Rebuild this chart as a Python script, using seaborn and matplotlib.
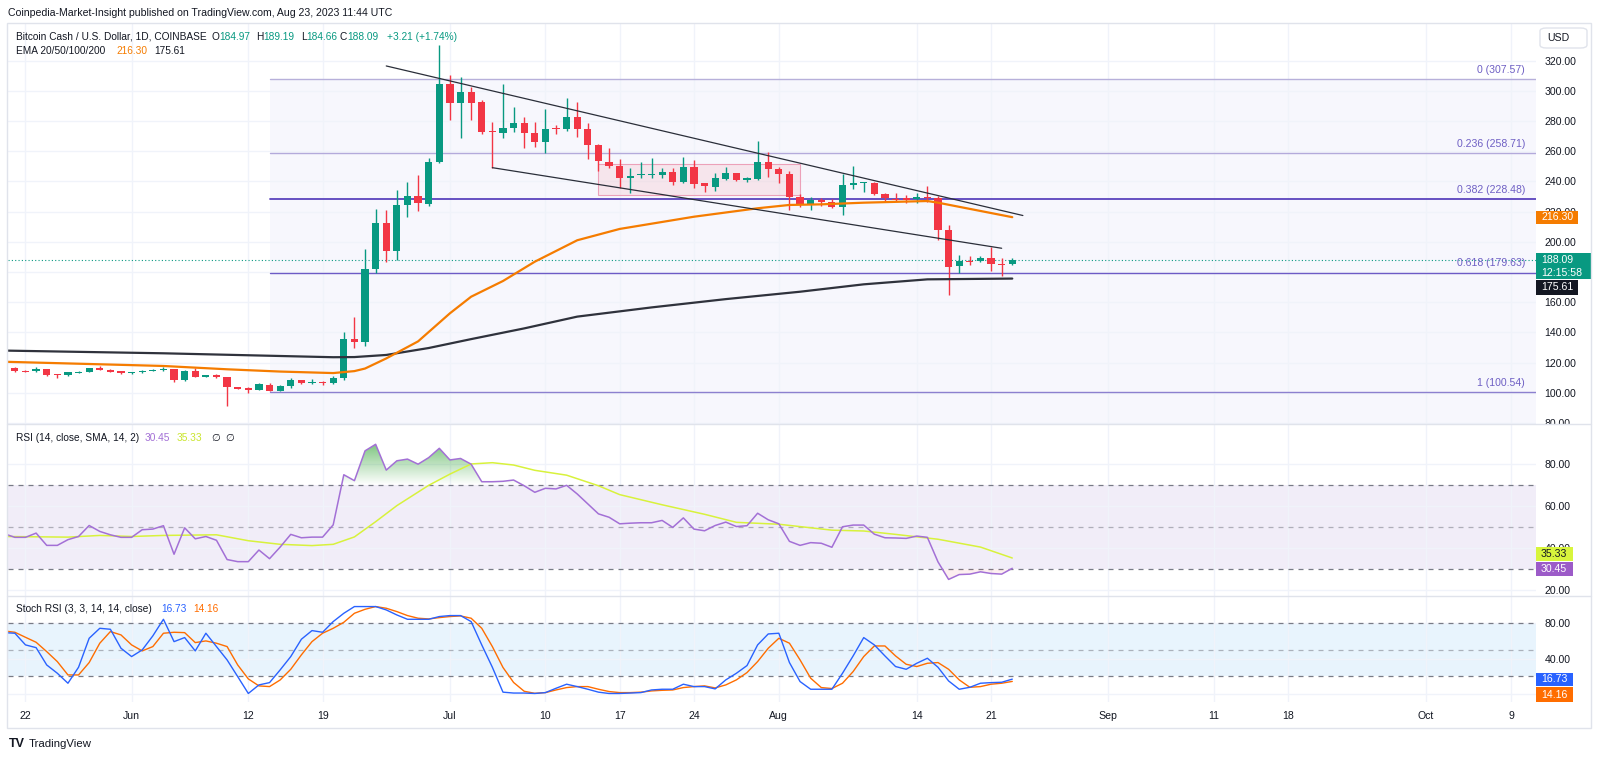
import numpy as np
import pandas as pd
import matplotlib
matplotlib.use('Agg')
import matplotlib.pyplot as plt
import matplotlib.dates as mdates
from matplotlib.patches import Rectangle, FancyBboxPatch, PathPatch
from matplotlib.lines import Line2D
from matplotlib.transforms import Bbox
import seaborn as sns

# ---------------- data ----------------
dates = pd.date_range('2023-05-20', '2023-08-23', freq='D')

opens = [116.3, 116.6, 114.4, 114.4, 115.5, 112.2, 111.5, 113.3, 114.0, 116.2, 115.1, 114.2,
         112.9, 113.5, 114.4, 114.9, 115.5, 108.4, 114.6, 110.6, 111.7, 110.2, 103.6, 102.9, 102.0, 105.1,
         101.4, 104.5, 108.2, 106.2, 107.3, 106.2, 109.5, 135.6, 133.3, 181.7, 212.7, 194.1, 224.4, 230.1,
         225.0, 253.1,
         304.5, 291.7, 299.5, 292.8, 273.4, 272.3, 275.6, 278.5, 271.8, 265.9, 275.2, 274.5, 282.4, 274.5,
         264.1, 253.1, 250.2, 242.0, 244.0, 244.0, 244.2, 246.0, 239.6, 249.3, 238.7, 236.5, 241.8, 245.3,
         240.9, 241.8, 253.1,
         248.0, 244.7, 229.4, 224.9, 227.7, 226.6, 222.8, 237.6, 238.7, 239.2, 231.6, 228.4, 228.8, 228.1,
         229.9, 228.8, 207.8, 183.9, 187.5, 187.2, 189.0, 185.3, 184.97]
highs = [117.0, 117.0, 115.0, 117.3, 115.8, 112.6, 113.8, 114.4, 116.6, 118.0, 115.5, 114.6,
         114.0, 115.0, 115.4, 117.2, 116.0, 115.0, 116.6, 112.0, 112.4, 110.6, 104.0, 103.6, 106.2, 106.4,
         104.9, 109.5, 108.6, 108.9, 107.7, 110.9, 140.4, 149.9, 195.0, 221.5, 221.0, 234.3, 239.4, 244.2,
         255.3, 330.4,
         310.5, 309.4, 302.8, 293.9, 279.6, 304.3, 289.5, 282.9, 279.6, 287.8, 277.4, 295.5, 292.8, 278.5,
         265.0, 261.9, 254.8, 248.7, 253.1, 255.3, 248.7, 248.7, 256.4, 254.2, 239.2, 245.3, 249.3, 245.8,
         243.0, 266.8, 259.7,
         249.3, 246.9, 231.6, 229.9, 228.8, 228.1, 244.9, 250.2, 239.8, 239.8, 232.5, 232.0, 230.8, 232.0,
         236.9, 230.3, 211.1, 191.2, 190.6, 190.6, 196.7, 189.0, 189.19]
lows = [115.8, 114.0, 113.6, 114.0, 111.3, 109.5, 111.2, 112.9, 113.8, 114.8, 113.4, 112.6,
        112.5, 113.2, 114.1, 114.6, 107.1, 108.0, 110.2, 110.3, 109.4, 91.2, 102.2, 100.0, 101.5, 100.8,
        101.0, 103.0, 105.8, 105.9, 105.0, 105.9, 108.5, 129.4, 131.0, 179.5, 186.4, 187.9, 216.6, 220.6,
        223.5, 252.4,
        280.7, 269.0, 280.7, 271.5, 249.1, 268.5, 273.0, 262.3, 263.0, 259.0, 271.2, 273.5, 269.6, 254.6,
        247.1, 248.7, 235.4, 232.1, 242.0, 242.0, 242.0, 237.6, 239.0, 235.8, 233.2, 233.6, 240.9, 240.5,
        239.5, 241.0, 243.1,
        239.2, 221.0, 222.8, 221.0, 223.7, 222.1, 217.7, 234.7, 233.2, 231.0, 227.2, 227.0, 225.5, 225.9,
        226.1, 201.2, 164.7, 179.1, 184.6, 186.5, 180.8, 177.3, 184.66]
closes = [116.7, 114.4, 114.0, 115.7, 111.5, 111.5, 113.5, 114.0, 116.2, 115.1, 113.7, 113.1,
          113.5, 114.6, 115.1, 116.0, 108.4, 114.6, 110.6, 111.7, 110.2, 103.6, 102.5, 102.0, 105.6, 101.4,
          104.5, 108.4, 106.2, 107.3, 106.2, 110.0, 135.6, 133.3, 182.0, 212.7, 194.1, 224.4, 230.1, 225.5,
          253.1, 304.5,
          291.7, 299.5, 292.2, 273.0, 272.5, 275.2, 278.5, 272.3, 265.9, 274.9, 274.5, 282.6, 274.5, 264.1,
          253.7, 250.4, 242.0, 243.8, 244.2, 244.4, 246.2, 239.6, 249.5, 238.5, 237.0, 242.0, 245.3, 240.9,
          242.3, 253.1, 248.0,
          244.7, 229.4, 225.0, 227.7, 226.6, 223.2, 237.6, 238.7, 239.2, 231.6, 229.2, 228.0, 227.7, 229.9,
          228.8, 207.8, 183.5, 187.2, 187.2, 189.5, 185.3, 184.97, 188.09]

ema50_dates = ['2023-05-20', '2023-06-04', '2023-06-10', '2023-06-15', '2023-06-20', '2023-06-22',
               '2023-06-23', '2023-06-25', '2023-06-28', '2023-07-01', '2023-07-03', '2023-07-06',
               '2023-07-09', '2023-07-13', '2023-07-17', '2023-07-24', '2023-07-30', '2023-08-02',
               '2023-08-05', '2023-08-09', '2023-08-15', '2023-08-16', '2023-08-23']
ema50 = [120.5, 117.7, 115.5, 114.0, 113.0, 114.3, 116.0, 122.7, 134.0, 152.6, 163.6, 174.0,
         186.8, 201.0, 208.5, 216.6, 222.2, 224.4, 224.8, 225.9, 227.0, 225.9, 216.3]

ema200_dates = ['2023-05-20', '2023-06-04', '2023-06-20', '2023-06-22', '2023-06-25', '2023-06-29',
                '2023-07-03', '2023-07-08', '2023-07-13', '2023-07-20', '2023-07-27', '2023-08-03',
                '2023-08-09', '2023-08-15', '2023-08-23']
ema200 = [127.9, 126.1, 123.5, 123.6, 125.0, 129.6, 135.5, 142.6, 150.4, 156.5, 162.0, 166.9,
          171.8, 175.1, 175.61]

rsi = [46.8, 45.1, 45.1, 47.1, 41.3, 41.3, 44.0, 45.5, 50.7, 47.9, 46.3, 45.1,
       45.1, 48.7, 49.0, 50.6, 37.1, 49.6, 44.4, 45.5, 43.7, 34.6, 33.6, 33.6, 39.1, 35.0,
       40.5, 46.5, 44.9, 45.2, 45.2, 51.0, 74.7, 71.9, 86.0, 89.1, 76.9, 81.3, 82.1, 79.7,
       82.8, 87.2,
       81.7, 82.4, 79.7, 71.4, 71.4, 71.6, 72.2, 69.5, 66.4, 68.3, 68.0, 69.7, 65.6, 60.9,
       56.2, 54.6, 51.5, 51.8, 52.0, 52.0, 53.1, 49.8, 54.3, 49.0, 48.2, 50.7, 52.3, 50.2,
       50.6, 56.5, 53.4,
       51.5, 43.2, 41.3, 42.6, 42.3, 40.4, 50.1, 50.9, 50.9, 46.6, 44.9, 44.8, 44.6, 45.7,
       45.1, 33.5, 25.2, 27.5, 27.7, 28.8, 28.0, 27.7, 30.45]

rsi_ma_dates = ['2023-05-20', '2023-05-26', '2023-05-29', '2023-06-01', '2023-06-04', '2023-06-09',
                '2023-06-12', '2023-06-15', '2023-06-18', '2023-06-20', '2023-06-22', '2023-06-24',
                '2023-06-26', '2023-06-29', '2023-07-01', '2023-07-03', '2023-07-05', '2023-07-07',
                '2023-07-09', '2023-07-12', '2023-07-15', '2023-07-17', '2023-07-21', '2023-07-25',
                '2023-07-28', '2023-08-01', '2023-08-06', '2023-08-09', '2023-08-12', '2023-08-16',
                '2023-08-20', '2023-08-23']
rsi_ma = [45.5, 45.2, 46.0, 45.5, 46.0, 46.3, 43.5, 41.8, 41.2, 41.8, 45.3, 52.5,
          60.1, 69.7, 75.0, 79.8, 80.4, 79.3, 76.8, 74.5, 69.5, 65.3, 60.5, 56.0,
          52.2, 51.3, 48.5, 48.1, 46.5, 44.2, 40.5, 35.33]

stoch_k = [69.4, 68.7, 55.5, 52.4, 32.8, 23.4, 12.1, 30.2, 63.0, 74.3, 73.2, 51.7,
           42.3, 49.8, 65.7, 84.5, 59.2, 63.8, 48.7, 68.7, 53.6, 38.5, 19.6, 0.5, 10.2, 12.8,
           27.2, 42.3, 61.9, 71.7, 69.8, 81.9, 91.3, 98.9, 98.9, 98.9, 95.1, 89.4, 84.5, 84.5,
           84.5, 87.6,
           88.7, 88.7, 81.9, 55.5, 30.2, 2.0, 1.0, 1.0, 0.5, 1.5, 6.4, 11.0, 8.3, 5.3,
           2.0, 0.5, 0.5, 1.0, 1.5, 4.5, 5.3, 5.3, 11.0, 8.3, 8.3, 5.7, 15.9, 23.4,
           32.1, 55.5, 67.9,
           68.7, 35.5, 14.0, 5.3, 5.3, 5.3, 23.4, 43.0, 63.8, 55.5, 43.0, 31.0, 27.9, 34.7,
           40.4, 30.2, 14.7, 5.3, 7.5, 12.1, 12.8, 13.2, 16.73]
stoch_d = [71.3, 69.8, 64.1, 58.5, 47.9, 36.6, 21.5, 21.5, 35.5, 57.4, 70.6, 66.8,
           55.5, 48.7, 53.6, 68.7, 69.8, 69.4, 58.1, 60.0, 57.4, 53.6, 32.8, 17.0, 9.1, 8.3,
           15.8, 27.9, 44.2, 59.2, 68.7, 74.3, 81.1, 91.3, 95.8, 98.9, 97.0, 93.2, 88.7, 85.7,
           84.9, 86.4,
           87.6, 88.3, 85.7, 74.3, 53.6, 30.0, 13.0, 3.0, 0.7, 1.5, 4.5, 7.2, 8.3, 8.3,
           5.3, 2.7, 1.5, 1.5, 2.0, 3.4, 4.1, 4.5, 7.2, 8.3, 9.1, 6.8, 10.2, 15.9,
           24.2, 36.6, 51.7,
           63.0, 57.4, 38.5, 17.8, 7.2, 6.1, 12.1, 25.3, 42.3, 54.3, 54.3, 43.0, 33.6, 31.0,
           34.7, 35.5, 27.9, 15.9, 7.5, 8.3, 11.0, 12.1, 14.16]

fib_ratios = ['0', '0.236', '0.382', '0.618', '1']
fib_prices = [307.57, 258.71, 228.48, 179.63, 100.54]
fib_colors = ['#b7b0da', '#b3aadb', '#5a43bd', '#6d5bc6', '#8c80cf']
fib_start = '2023-06-14'

upper_trend_dates = ['2023-06-25', '2023-08-24']
upper_trend_prices = [316.5, 217.4]
lower_trend_dates = ['2023-07-05', '2023-08-22']
lower_trend_prices = [249.1, 195.7]
box_dates = ['2023-07-15', '2023-08-03']
box_prices = [231.1, 251.5]

price_ticks = [80, 100, 120, 140, 160, 180, 200, 220, 240, 260, 280, 300, 320]
rsi_ticks = [20, 40, 60, 80]
stoch_ticks = [0, 40, 80]
date_ticks = ['2023-05-22', '2023-06-01', '2023-06-12', '2023-06-19', '2023-07-01', '2023-07-10',
              '2023-07-17', '2023-07-24', '2023-08-01', '2023-08-14', '2023-08-21', '2023-09-01',
              '2023-09-11', '2023-09-18', '2023-10-01', '2023-10-09']
date_labels = ['22', 'Jun', '12', '19', 'Jul', '10', '17', '24', 'Aug', '14', '21', 'Sep',
               '11', '18', 'Oct', '9']

# ---------------- styling ----------------
sns.set_theme(style='white')
plt.rcParams['font.family'] = ['Liberation Sans', 'DejaVu Sans']
UP, DN = '#089981', '#f23645'
TXT = '#131722'
GRID = '#f0f3fa'
BORDER = '#e0e3eb'
FS = 7.6     # axis labels
FT = 7.25    # legend rows

W, H = 1600, 759
fig = plt.figure(figsize=(W / 100, H / 100), dpi=100)
fig.patch.set_facecolor('white')


def fx(px):
    return px / W


def fy(py):
    return 1 - py / H


PL, PR = 8, 1536


def add_pane(top, bottom):
    a = fig.add_axes([fx(PL), fy(bottom), (PR - PL) / W, (bottom - top) / H])
    a.set_facecolor('white')
    for s in a.spines.values():
        s.set_visible(False)
    return a


ax = add_pane(24, 424)
ax_r = add_pane(424, 595.7)
ax_s = add_pane(595.7, 701.7)

d2n = lambda s: mdates.date2num(pd.to_datetime(s))
xd = mdates.date2num(dates)
base = d2n('2023-05-22')
XL = (base - 1.649, base + 142.36)
tick_x = [d2n(t) for t in date_ticks]

o = np.array(opens); h = np.array(highs); l = np.array(lows); c = np.array(closes)
up = c >= o
cols = np.where(up, UP, DN)

# ---- main pane ----
fib_x0 = d2n(fib_start)
ax.add_patch(Rectangle((fib_x0, 60), XL[1] - fib_x0, fib_prices[0] - 60, facecolor='#f7f7fd',
                       edgecolor='none', zorder=0.5))
for p, col, r in zip(fib_prices, fib_colors, fib_ratios):
    lw = 1.3 if r in ('0.382',) else 1.0
    ax.plot([fib_x0, XL[1]], [p, p], color=col, lw=lw, zorder=1)
    ax.annotate(f'{r} ({p:.2f})', xy=(XL[1], p), xytext=(-8, 6.5), textcoords='offset points',
                ha='right', va='center', fontsize=FS, color='#6e5fc4', zorder=6)

bx = [d2n(s) for s in box_dates]
ax.add_patch(Rectangle((bx[0], box_prices[0]), bx[1] - bx[0], box_prices[1] - box_prices[0],
                       facecolor=(0.95, 0.21, 0.27, 0.09), edgecolor=(0.92, 0.6, 0.7, 0.9),
                       lw=0.8, zorder=1.2))

ax.axhline(closes[-1], color=UP, ls=(0, (1, 2)), lw=0.8, zorder=1.5)

body_h = c - o
body_h = np.where(np.abs(body_h) < 0.7, np.where(up, 0.7, -0.7), body_h)
ax.vlines(xd, l, h, colors=cols, lw=1.0, zorder=2)
ax.bar(xd, body_h, bottom=o, width=0.68, color=cols, linewidth=0, zorder=2.5)

sns.lineplot(x=[d2n(s) for s in ema200_dates], y=ema200, ax=ax, color='#2f323c', lw=1.6,
             sort=False, estimator=None, zorder=3)
sns.lineplot(x=[d2n(s) for s in ema50_dates], y=ema50, ax=ax, color='#f57c00', lw=1.6,
             sort=False, estimator=None, zorder=3)
sns.lineplot(x=[d2n(s) for s in upper_trend_dates], y=upper_trend_prices, ax=ax, color='#2a2e39',
             lw=0.9, sort=False, estimator=None, zorder=3.5)
sns.lineplot(x=[d2n(s) for s in lower_trend_dates], y=lower_trend_prices, ax=ax, color='#2a2e39',
             lw=0.9, sort=False, estimator=None, zorder=3.5)

ax.set_xlim(*XL)
ax.set_ylim(79.25, 344.3)

# ---- RSI pane ----
ax_r.add_patch(Rectangle((XL[0], 30), XL[1] - XL[0], 40, facecolor=(0.49, 0.34, 0.76, 0.1),
                         edgecolor='none', zorder=0.5))
for v, a in ((70, 1.0), (50, 0.55), (30, 1.0)):
    ax_r.axhline(v, color='#787b86', ls=(0, (4, 4)), lw=0.9, alpha=a, zorder=1)
rsi_arr = np.array(rsi)
coll = ax_r.fill_between(xd, rsi_arr, 70, where=rsi_arr >= 70, interpolate=True,
                         facecolor='none', edgecolor='none')
grad = np.zeros((100, 1, 4))
grad[:, 0, 0], grad[:, 0, 1], grad[:, 0, 2] = 0.30, 0.69, 0.31
grad[:, 0, 3] = np.linspace(0.0, 0.75, 100)
for pth in coll.get_paths():
    pp = PathPatch(pth, transform=ax_r.transData, facecolor='none', edgecolor='none')
    ax_r.add_patch(pp)
    im = ax_r.imshow(grad, extent=[XL[0], XL[1], 70, 90], origin='lower', aspect='auto', zorder=1.5)
    im.set_clip_path(pp)
ax_r.fill_between(xd, rsi_arr, 30, where=rsi_arr <= 30, interpolate=True,
                  facecolor=(0.95, 0.21, 0.27, 0.08), edgecolor='none', zorder=1.5)
sns.lineplot(x=[d2n(s) for s in rsi_ma_dates], y=rsi_ma, ax=ax_r, color='#d8f23c', lw=1.1,
             sort=False, estimator=None, zorder=2)
sns.lineplot(x=xd, y=rsi_arr, ax=ax_r, color='#a370d6', lw=1.1, sort=False, estimator=None, zorder=3)
ax_r.set_xlim(*XL)
ax_r.set_ylim(17.5, 98.7)

# ---- Stoch RSI pane ----
ax_s.add_patch(Rectangle((XL[0], 20), XL[1] - XL[0], 60, facecolor=(0.13, 0.59, 0.95, 0.1),
                         edgecolor='none', zorder=0.5))
for v, a in ((80, 1.0), (50, 0.55), (20, 1.0)):
    ax_s.axhline(v, color='#787b86', ls=(0, (4, 4)), lw=0.9, alpha=a, zorder=1)
sns.lineplot(x=xd, y=stoch_k, ax=ax_s, color='#2962ff', lw=1.0, sort=False, estimator=None, zorder=3)
sns.lineplot(x=xd, y=stoch_d, ax=ax_s, color='#ff6d00', lw=1.0, sort=False, estimator=None, zorder=2.5)
ax_s.set_xlim(*XL)
ax_s.set_ylim(-8.8, 111.2)

# ---- ticks & grids ----
hidden = {(0, 180), (2, 0)}   # labels fully covered by the value boxes in the reference
for k, (a, yt) in enumerate(((ax, price_ticks), (ax_r, rsi_ticks), (ax_s, stoch_ticks))):
    a.set_xlabel('')
    a.set_ylabel('')
    a.set_xticks(tick_x)
    a.yaxis.tick_right()
    a.set_yticks(yt)
    a.set_yticklabels(['' if (k, v) in hidden else f'{v:.2f}' for v in yt])
    a.tick_params(axis='y', length=0, pad=6, labelsize=FS, labelcolor=TXT)
    a.tick_params(axis='x', length=0)
    a.grid(True, color=GRID, lw=1.0, zorder=0)
    a.set_axisbelow(True)
ax.tick_params(axis='x', labelbottom=False)
ax_r.tick_params(axis='x', labelbottom=False)
ax_s.set_xticklabels(date_labels)
ax_s.tick_params(axis='x', labelsize=FS, labelcolor=TXT, pad=7)

# clip the price-scale labels to their pane (and to the part not under the value boxes)
for lab in ax.get_yticklabels():
    lab.set_clip_on(True)
    top_clip = H - 210.7 if lab.get_text() == '220.00' else H - 424
    lab.set_clip_box(Bbox([[PR, top_clip], [W, H - 24]]))
for lab in ax_r.get_yticklabels():
    if lab.get_text() == '40.00':
        lab.set_clip_on(True)
        lab.set_clip_box(Bbox([[PR, H - 546.7], [W, H - 424]]))

renderer = fig.canvas.get_renderer()


# ---- overlay texts and boxes ----
def T(x, y, s, **kw):
    kw.setdefault('ha', 'left')
    kw.setdefault('fontsize', FT)
    kw.setdefault('color', TXT)
    return fig.text(fx(x), fy(y), s, va='center', zorder=8, **kw)


def TW(x, y, s, **kw):
    t = T(x, y, s, **kw)
    return x + t.get_window_extent(renderer=renderer).width


def box(x0, y0, x1, y1, col):
    fig.add_artist(Rectangle((fx(x0), fy(y1)), (x1 - x0) / W, (y1 - y0) / H,
                             transform=fig.transFigure, facecolor=col, edgecolor='none', zorder=7))


# frame
fig.add_artist(Rectangle((fx(7), fy(728)), (1591 - 7) / W, (728 - 23) / H, transform=fig.transFigure,
                         facecolor='none', edgecolor=BORDER, lw=1, zorder=9))
for yy in (424, 595.7):
    fig.add_artist(Line2D([fx(7), fx(1591)], [fy(yy), fy(yy)], transform=fig.transFigure,
                          color=BORDER, lw=1, zorder=9))

T(8, 13, 'Coinpedia-Market-Insight published on TradingView.com, Aug 23, 2023 11:44 UTC', fontsize=FS)
T(16, 36.5, 'Bitcoin Cash / U.S. Dollar, 1D, COINBASE')
for lx, letter, val in ((211.7, 'O', '184.97'), (256, 'H', '189.19'), (300.7, 'L', '184.66'),
                        (340, 'C', '188.09')):
    nx = TW(lx, 36.5, letter)
    T(nx, 36.5, val, color=UP)
T(387.3, 36.5, '+3.21 (+1.74%)', color=UP)
T(16, 51.5, 'EMA 20/50/100/200')
T(116, 51.5, '216.30', color='#f57c00')
T(154, 51.5, '175.61')

T(16, 438.3, 'RSI (14, close, SMA, 14, 2)')
T(145, 438.3, '30.45', color='#a370d6')
T(176.7, 438.3, '35.33', color='#c9e52c')
T(211.7, 438.3, '\u2205')
T(225.3, 438.3, '\u2205')

T(16, 609, 'Stoch RSI (3, 3, 14, 14, close)')
T(161.7, 609, '16.73', color='#2962ff')
T(193.3, 609, '14.16', color='#ff6d00')

# USD box
fig.add_artist(FancyBboxPatch((fx(1540), fy(48)), 47 / W, 20 / H, boxstyle='round,pad=0,rounding_size=0.004',
                              transform=fig.transFigure, facecolor='white', edgecolor=BORDER, lw=1, zorder=7))
T(1547, 38, 'USD', fontsize=FS)

# price scale value labels
box(1536, 210.7, 1578, 224.3, '#f57c00')
T(1541, 217.5, '216.30', color='white', fontsize=FS)
box(1536, 253.3, 1590.7, 279.3, UP)
T(1541, 260, '188.09', color='white', fontsize=FS)
T(1541, 272.5, '12:15:58', color='white', fontsize=FS)
box(1536, 280, 1578, 295, '#131722')
T(1541, 287.5, '175.61', color='white', fontsize=FS)

box(1536, 546.7, 1572.7, 561, '#d8f53c')
T(1541, 554, '35.33', color=TXT, fontsize=FS)
box(1536, 561.7, 1572.7, 575.7, '#9c5bc8')
T(1541, 568.7, '30.45', color='white', fontsize=FS)

box(1536, 672.7, 1572.7, 686, '#2962ff')
T(1541, 679.4, '16.73', color='white', fontsize=FS)
box(1536, 687.3, 1572.7, 701.7, '#ff6d00')
T(1541, 694.5, '14.16', color='white', fontsize=FS)

# footer logo
T(9, 744, 'TV', fontsize=9, fontweight='bold', color='#131722')
T(29, 744, 'TradingView', fontsize=8.2, color='#131722')

fig.savefig('out.png', dpi=100, facecolor='white')
